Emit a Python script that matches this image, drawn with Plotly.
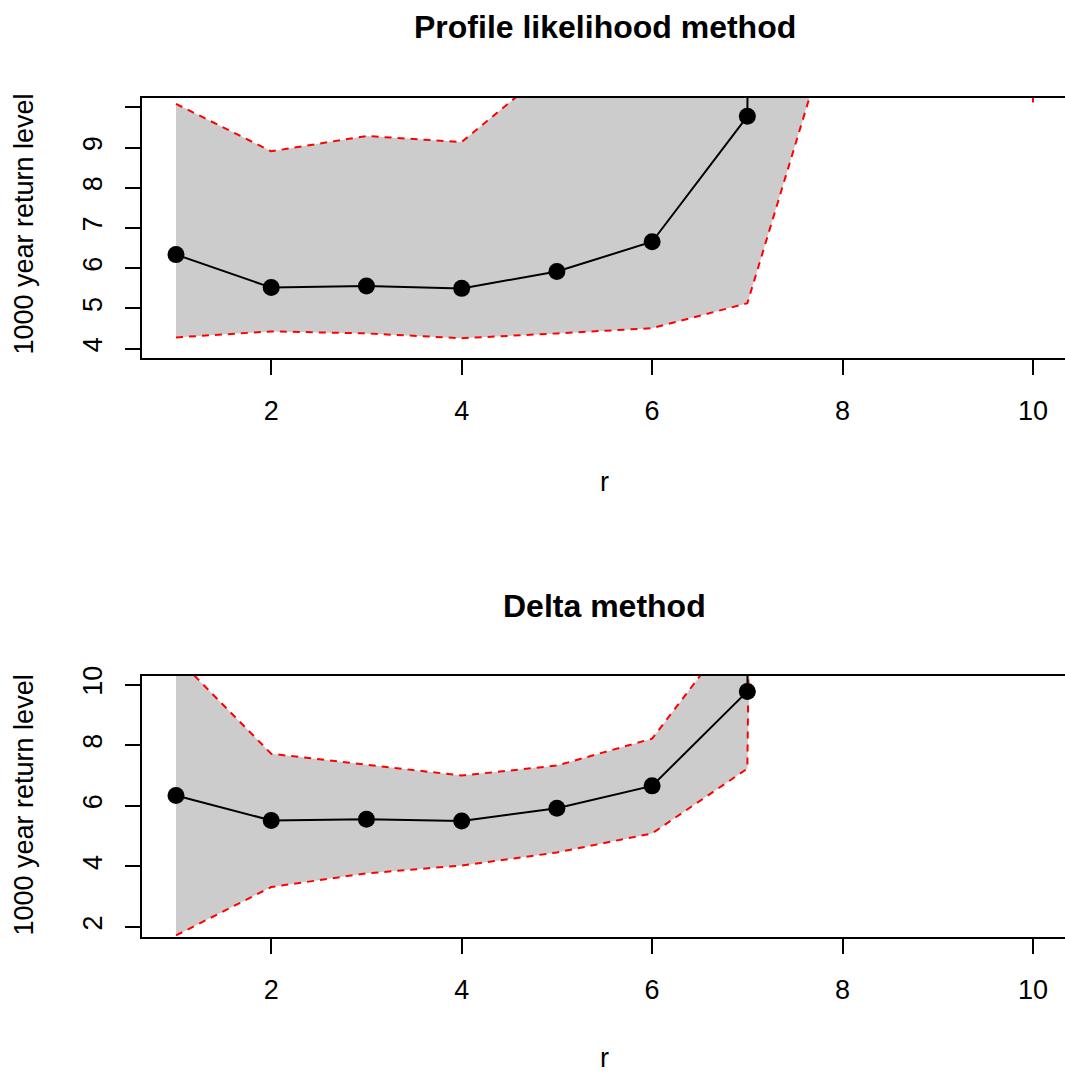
import plotly.graph_objects as go

# ---------------- data ----------------
r_values = [1, 2, 3, 4, 5, 6, 7, 8, 9, 10]
estimate = [6.34, 5.52, 5.56, 5.50, 5.92, 6.66, 9.78, 160.0, 420.0, 900.0]

profile_lower = [4.28, 4.43, 4.38, 4.26, 4.38, 4.51, 5.13, 12.97, 500.0, 10.0]
profile_upper = [10.09, 8.91, 9.29, 9.14, 11.10, 14.0, 24.0, 80.0, 700.0, 1000.0]

delta_lower = [1.72, 3.32, 3.77, 4.03, 4.46, 5.09, 7.23, 140.0, 380.0, 850.0]
delta_upper = [10.92, 7.72, 7.36, 7.00, 7.33, 8.22, 12.34, 180.0, 460.0, 950.0]

x_ticks = [2, 4, 6, 8, 10]
top_y_ticks = [4, 5, 6, 7, 8, 9, 10]
top_y_labels = ["4", "5", "6", "7", "8", "9", ""]
bottom_y_ticks = [2, 4, 6, 8, 10]
bottom_y_labels = ["2", "4", "6", "8", "10"]

titles = ["Profile likelihood method", "Delta method"]
y_title = "1000 year return level"
x_title = "r"

# ---------------- figure ----------------
W, H = 1065, 1073
FONT = "Liberation Sans, Arial, Helvetica, sans-serif"
GREY = "#CCCCCC"
RED = "#FF0000"

fig = go.Figure()

panels = [
    ("x", "y", profile_lower, profile_upper),
    ("x2", "y2", delta_lower, delta_upper),
]
for xa, ya, lo, up in panels:
    fig.add_trace(go.Scatter(
        x=r_values + r_values[::-1], y=lo + up[::-1],
        fill="toself", fillcolor=GREY, mode="none",
        xaxis=xa, yaxis=ya, hoverinfo="skip", showlegend=False))
    for band in (lo, up):
        fig.add_trace(go.Scatter(
            x=r_values, y=band, mode="lines",
            line=dict(color=RED, width=2, dash="7px,6px"),
            xaxis=xa, yaxis=ya, showlegend=False))
    fig.add_trace(go.Scatter(
        x=r_values, y=estimate, mode="lines+markers",
        line=dict(color="black", width=2),
        marker=dict(color="black", size=17),
        cliponaxis=True,
        xaxis=xa, yaxis=ya, showlegend=False))

# empirical mapping from target pixel row to paper fraction
def px_y(p):
    return 1 - (p - 8) / 1065

x_dom = [142 / W, 1.0]
x_range = [0.6429, 10.336]
top_dom = [px_y(356.7), px_y(96)]
bot_dom = [px_y(936.7), px_y(675)]

axis_common = dict(
    showline=True, linecolor="black", linewidth=2,
    ticks="outside", ticklen=15, tickwidth=2, tickcolor="black",
    showgrid=False, zeroline=False,
    tickfont=dict(family=FONT, size=27, color="black"),
)

fig.update_layout(
    width=W, height=H,
    margin=dict(l=0, r=0, t=0, b=0),
    paper_bgcolor="white", plot_bgcolor="white",
    font=dict(family=FONT, color="black"),
    xaxis=dict(domain=x_dom, range=x_range, anchor="y", mirror=True,
               tickvals=x_ticks, ticklabelstandoff=13, **axis_common),
    yaxis=dict(domain=top_dom, range=[3.767, 10.24], anchor="x",
               tickvals=top_y_ticks, ticktext=top_y_labels,
               tickangle=-90, ticklabelstandoff=12, **axis_common),
    xaxis2=dict(domain=x_dom, range=x_range, anchor="y2", mirror=True,
                tickvals=x_ticks, ticklabelstandoff=13, **axis_common),
    yaxis2=dict(domain=bot_dom, range=[1.67, 10.297], anchor="x2",
                tickvals=bottom_y_ticks, ticktext=bottom_y_labels,
                tickangle=-90, ticklabelstandoff=12, **axis_common),
)

cx = (142 + 1067) / 2 / W
ann = []
# panel titles
for t, ypix in zip(titles, [25, 605]):
    ann.append(dict(text=f"<b>{t}</b>", x=cx, y=px_y(ypix), xref="paper", yref="paper",
                    xanchor="center", yanchor="middle", showarrow=False,
                    font=dict(family=FONT, size=32, color="black")))
# x axis titles
for ypix in [481, 1058]:
    ann.append(dict(text=x_title, x=cx, y=px_y(ypix), xref="paper", yref="paper",
                    xanchor="center", yanchor="middle", showarrow=False,
                    font=dict(family=FONT, size=27, color="black")))
# y axis titles
for ypix in [223, 805]:
    ann.append(dict(text=y_title, x=24 / W, y=px_y(ypix), xref="paper", yref="paper",
                    xanchor="center", yanchor="middle", showarrow=False, textangle=-90,
                    font=dict(family=FONT, size=27, color="black")))
fig.update_layout(annotations=ann)

fig.write_html("out.html")
